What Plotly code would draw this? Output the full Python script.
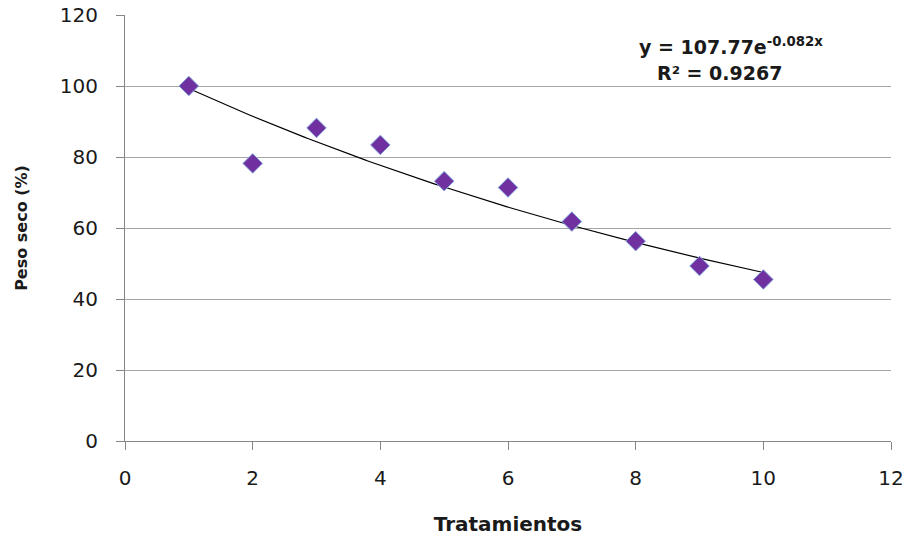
import numpy as np
import plotly.graph_objects as go

# Treatments and dry weight (%)
tratamientos = [1, 2, 3, 4, 5, 6, 7, 8, 9, 10]
peso_seco = [100.0, 78.2, 88.2, 83.4, 73.2, 71.4, 61.8, 56.3, 49.3, 45.5]

# Exponential trendline coefficients
coef_a = 107.77
coef_b = -0.082
r2 = 0.9267

x_fit = np.linspace(min(tratamientos), max(tratamientos), 200)
y_fit = coef_a * np.exp(coef_b * x_fit)

FONT = "DejaVu Sans"
TXT = "#1a1a1a"

PL, PR, PT, PB = 125, 20, 15, 101
W, H = 911, 542
pw, ph = W - PL - PR, H - PT - PB


def px_to_domain(px, py):
    """Pixel position on the page -> fraction of the plotting area."""
    return (px - PL) / pw, 1 - (py - PT) / ph


fig = go.Figure()

fig.add_trace(go.Scatter(
    x=x_fit, y=y_fit, mode="lines",
    line=dict(color="black", width=1.2),
    hoverinfo="skip", showlegend=False,
))

fig.add_trace(go.Scatter(
    x=tratamientos, y=peso_seco, mode="markers",
    marker=dict(symbol="diamond", size=15, color="#7030A0",
                line=dict(color="#7f9fdc", width=1)),
    showlegend=False,
))

ex, ey = px_to_domain(731, 46)
fig.add_annotation(
    x=ex, y=ey, xref="x domain", yref="y domain",
    xanchor="center", yanchor="middle",
    text=f"<b>y = {coef_a}e<sup>{coef_b}x</sup></b>",
    showarrow=False, font=dict(family=FONT, size=19, color=TXT),
)
rx, ry = px_to_domain(719, 73)
fig.add_annotation(
    x=rx, y=ry, xref="x domain", yref="y domain",
    xanchor="center", yanchor="middle",
    text=f"<b>R² = {r2}</b>",
    showarrow=False, font=dict(family=FONT, size=19, color=TXT),
)

axis_common = dict(
    showline=True, linecolor="#868686", linewidth=1.2,
    ticks="outside", tickcolor="#868686", ticklen=8, tickwidth=1.2,
    tickfont=dict(family=FONT, size=20, color=TXT),
    zeroline=False, automargin=False,
)

fig.update_xaxes(
    range=[0, 12], dtick=2, showgrid=False, ticklabelstandoff=11,
    title=dict(text="<b>Tratamientos</b>",
               font=dict(family=FONT, size=20, color=TXT),
               standoff=27),
    **axis_common,
)
fig.update_yaxes(
    range=[0, 120], dtick=20, showgrid=True, gridcolor="#a6a6a6", gridwidth=1.2,
    ticklabelstandoff=14,
    title=dict(text="<b>Peso seco (%)</b>",
               font=dict(family=FONT, size=16, color=TXT),
               standoff=28),
    **axis_common,
)

fig.update_layout(
    width=W, height=H,
    margin=dict(l=PL, r=PR, t=PT, b=PB),
    plot_bgcolor="white", paper_bgcolor="white",
)

fig.write_html("out.html")
